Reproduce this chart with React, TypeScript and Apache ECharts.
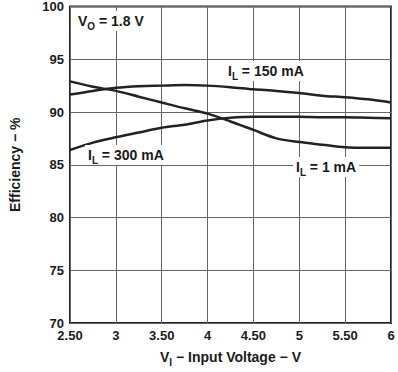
import React, { useEffect, useRef } from "react";
import * as echarts from "echarts";

const inputVoltage = [2.5, 2.75, 3, 3.25, 3.5, 3.75, 4, 4.25, 4.5, 4.75, 5, 5.25, 5.5, 5.75, 6];
const eff150mA = [91.65, 92.0, 92.3, 92.45, 92.5, 92.55, 92.5, 92.35, 92.15, 92.0, 91.8, 91.55, 91.4, 91.2, 90.9];
const eff1mA = [92.9, 92.4, 92.0, 91.45, 90.9, 90.35, 89.85, 89.1, 88.3, 87.5, 87.15, 86.9, 86.65, 86.6, 86.6];
const eff300mA = [86.4, 87.1, 87.6, 88.05, 88.5, 88.8, 89.2, 89.45, 89.55, 89.55, 89.55, 89.5, 89.5, 89.45, 89.4];

const FONT = "'Liberation Sans', Arial, sans-serif";
const TXT = "#1a1a1a";

const richMain = { fontFamily: FONT, fontWeight: "bold", fontSize: 14, lineHeight: 20, fill: TXT, color: TXT };
const richSub = { fontFamily: FONT, fontWeight: "bold", fontSize: 10, lineHeight: 11, fill: TXT, color: TXT, verticalAlign: "bottom" };

function pairs(ys: number[]) {
  return inputVoltage.map((x, i) => [x, ys[i]]);
}

function label(x: number, y: number, main: string, sub: string, rest: string) {
  return {
    type: "text",
    x,
    y,
    z: 10,
    style: {
      text: `{a|${main}}{s|${sub}}{a|${rest}}`,
      backgroundColor: "#fff",
      padding: [0, 3, 0, 3],
      rich: { a: richMain, s: richSub },
      textVerticalAlign: "middle",
    },
  };
}

export default function App() {
  const ref = useRef<HTMLDivElement>(null);
  useEffect(() => {
    if (!ref.current) return;
    const chart = echarts.init(ref.current, null, { renderer: "svg" });
    const lineSeries = (d: number[]) => ({
      type: "line",
      data: pairs(d),
      showSymbol: false,
      smooth: 0.3,
      lineStyle: { color: "#222", width: 2.5 },
      z: 5,
    });
    chart.setOption({
      animation: false,
      grid: { left: 62, right: 7, top: 5, bottom: 39, show: true, borderColor: "#222", borderWidth: 2, backgroundColor: "transparent" },
      xAxis: {
        type: "value",
        min: 2.5,
        max: 6,
        interval: 0.5,
        axisLine: { show: false },
        axisTick: { show: false },
        splitLine: { show: true, lineStyle: { color: "#666", width: 1 } },
        axisLabel: {
          formatter: (v: number) => (Math.abs(v % 1) < 1e-9 ? String(v) : v.toFixed(2)),
          fontFamily: FONT,
          fontWeight: "bold",
          fontSize: 13,
          color: TXT,
          margin: 6,
        },
        name: "{a|V}{s|I}{a| − Input Voltage − V}",
        nameLocation: "middle",
        nameGap: 24,
        nameTextStyle: { rich: { a: richMain, s: richSub } },
      },
      yAxis: {
        type: "value",
        min: 70,
        max: 100,
        interval: 5,
        axisLine: { show: false },
        axisTick: { show: false },
        splitLine: { show: true, lineStyle: { color: "#666", width: 1 } },
        axisLabel: { fontFamily: FONT, fontWeight: "bold", fontSize: 13, color: TXT, margin: 6 },
        name: "Efficiency − %",
        nameLocation: "middle",
        nameGap: 48,
        nameTextStyle: { fontFamily: FONT, fontWeight: "bold", fontSize: 14, color: TXT },
      },
      series: [lineSeries(eff150mA), lineSeries(eff1mA), lineSeries(eff300mA)],
      graphic: [
        label(75, 21, "V", "O", " = 1.8 V"),
        label(225, 71, "I", "L", " = 150 mA"),
        label(85, 155, "I", "L", " = 300 mA"),
        label(293, 167, "I", "L", " = 1 mA"),
      ],
    });
    return () => chart.dispose();
  }, []);
  return <div ref={ref} style={{ width: 398, height: 372, position: "absolute", left: 0, top: 0 }} />;
}
